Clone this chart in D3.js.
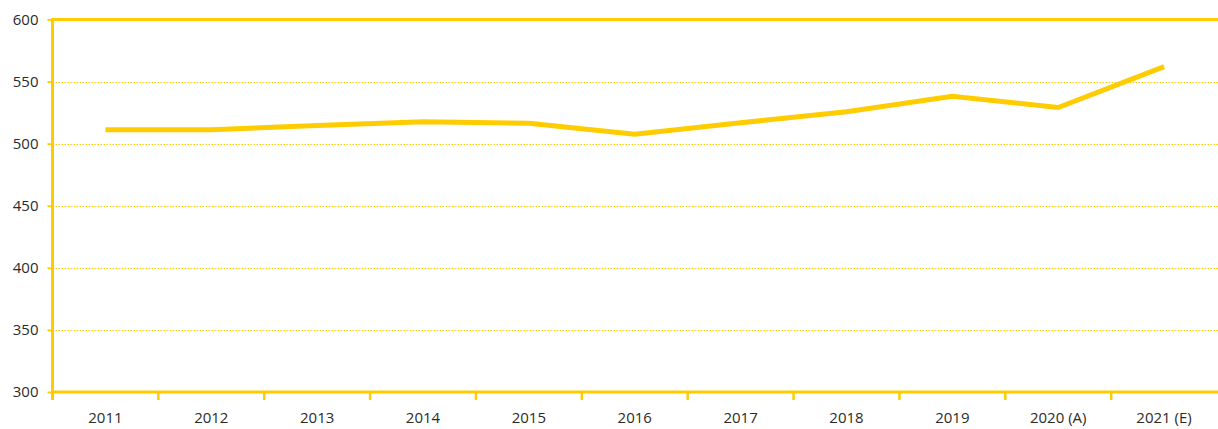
<!DOCTYPE html>
<html>
<head>
<meta charset="utf-8">
<script src="https://cdn.jsdelivr.net/npm/d3@7"></script>
<style>
  body { margin: 0; background: #fff; }
  svg text { font-family: "Open Sans", "Noto Sans", sans-serif; font-size: 15px; fill: #2b2b2b; }
</style>
</head>
<body>
<div id="chart"></div>
<script>
// data
const years = ["2011", "2012", "2013", "2014", "2015", "2016", "2017", "2018", "2019", "2020 (A)", "2021 (E)"]
const values = [511.3, 511.3, 514.6, 517.6, 516.4, 507.5, 516.8, 525.7, 538.1, 529.1, 562.1]
const yTicks = [300, 350, 400, 450, 500, 550, 600]

const yellow = "#ffcc00"

// dimensions
const width = 1218
const height = 429
const margin = { top: 19.5, right: 1, bottom: 37, left: 52.5 }

const svg = d3.select("#chart").append("svg")
    .attr("width", width)
    .attr("height", height)

// scales
const x = d3.scaleBand()
    .domain(years)
    .range([margin.left, width - margin.right])

const y = d3.scaleLinear()
    .domain([300, 600])
    .range([height - margin.bottom, margin.top])

// gridlines (dotted)
svg.append("g")
  .selectAll("line")
  .data(yTicks.filter(d => d > 300 && d < 600))
  .join("line")
    .attr("x1", margin.left)
    .attr("x2", width)
    .attr("y1", d => Math.round(y(d)) + 0.5)
    .attr("y2", d => Math.round(y(d)) + 0.5)
    .attr("stroke", yellow)
    .attr("stroke-width", 1)
    .attr("stroke-dasharray", "1.5,1.5")

// top border line at 600
svg.append("line")
    .attr("x1", margin.left)
    .attr("x2", width)
    .attr("y1", y(600))
    .attr("y2", y(600))
    .attr("stroke", yellow)
    .attr("stroke-width", 3)

// y axis
const yAxis = svg.append("g")
    .attr("transform", `translate(${margin.left},0)`)
    .call(d3.axisLeft(y).tickValues(yTicks).tickSize(5).tickPadding(9))
yAxis.attr("font-size", null).attr("font-family", null)
yAxis.select(".domain").remove()
yAxis.selectAll(".tick line").attr("stroke", yellow).attr("stroke-width", 2)
yAxis.append("line")
    .attr("y1", margin.top - 1.5)
    .attr("y2", height - margin.bottom + 8)
    .attr("stroke", yellow)
    .attr("stroke-width", 3)

// x axis
const xAxisY = y(300)
const xg = svg.append("g")
svg.append("line")
    .attr("x1", margin.left)
    .attr("x2", width)
    .attr("y1", xAxisY)
    .attr("y2", xAxisY)
    .attr("stroke", yellow)
    .attr("stroke-width", 3)

xg.selectAll(".xtick")
  .data(years.slice(1))
  .join("line")
    .attr("class", "xtick")
    .attr("x1", d => x(d))
    .attr("x2", d => x(d))
    .attr("y1", xAxisY)
    .attr("y2", xAxisY + 8)
    .attr("stroke", yellow)
    .attr("stroke-width", 2.5)

xg.selectAll(".xlabel")
  .data(years)
  .join("text")
    .attr("class", "xlabel")
    .attr("x", d => x(d) + x.bandwidth() / 2)
    .attr("y", xAxisY + 31)
    .attr("text-anchor", "middle")
    .text(d => d)

// line
const line = d3.line()
    .x((d, i) => x(years[i]) + x.bandwidth() / 2)
    .y(d => y(d))

svg.append("path")
    .datum(values)
    .attr("d", line)
    .attr("fill", "none")
    .attr("stroke", yellow)
    .attr("stroke-width", 5)
    .attr("stroke-linejoin", "miter")
</script>
</body>
</html>
